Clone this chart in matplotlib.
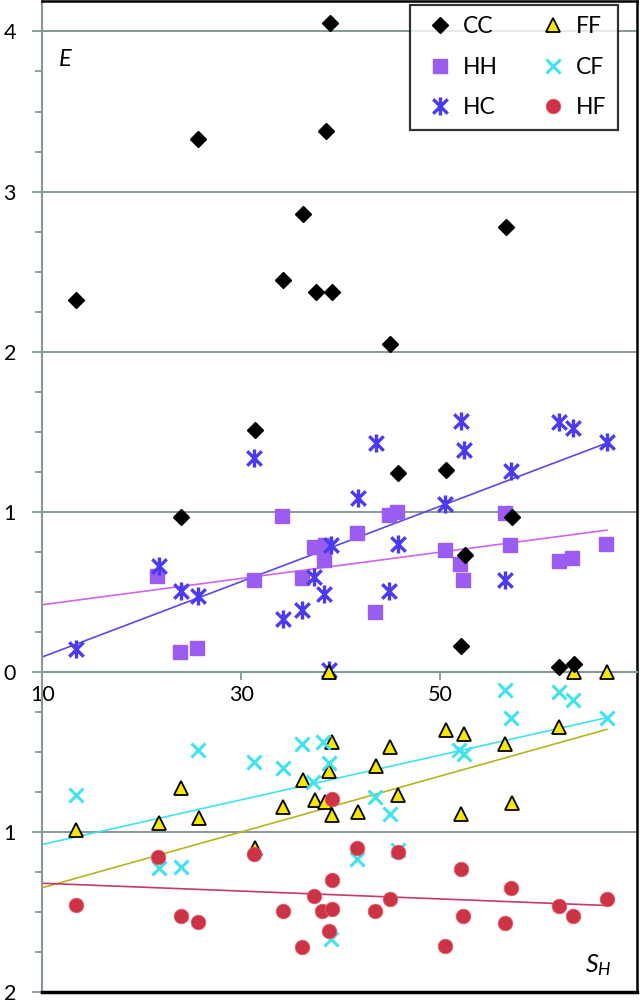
import matplotlib
matplotlib.use("Agg")
import matplotlib.pyplot as plt
import numpy as np
from matplotlib.path import Path
from matplotlib.ticker import MultipleLocator, FuncFormatter

plt.rcParams["font.family"] = ["Lato", "DejaVu Sans"]
plt.rcParams["mathtext.fontset"] = "custom"
plt.rcParams["mathtext.it"] = "Lato:italic"
plt.rcParams["mathtext.rm"] = "Lato"

# --- data (upper panel: E, lower panel: E of F-groups, drawn downward) ---
cc_x = [13.4, 25.7, 38.9, 38.5, 36.2, 34.2, 37.5, 39.1, 45.0, 56.7, 31.4, 24.0, 45.8, 50.6, 57.3, 52.5, 52.1, 62.0, 63.5]
cc_y = [2.32, 3.33, 4.05, 3.38, 2.86, 2.45, 2.37, 2.37, 2.05, 2.78, 1.51, 0.97, 1.24, 1.26, 0.97, 0.73, 0.16, 0.03, 0.05]

hh_x = [21.5, 23.9, 25.6, 31.3, 34.1, 36.1, 37.3, 38.4, 38.3, 41.7, 43.5, 44.9, 45.7, 50.5, 52.0, 52.3, 56.5, 57.1, 62.0, 63.3, 66.7]
hh_y = [0.60, 0.125, 0.15, 0.573, 0.977, 0.59, 0.78, 0.79, 0.698, 0.865, 0.375, 0.979, 0.998, 0.761, 0.673, 0.577, 0.99, 0.79, 0.692, 0.711, 0.798]

hc_x = [13.4, 21.7, 24.0, 25.7, 31.3, 34.2, 36.1, 37.3, 38.3, 38.8, 39.0, 41.8, 43.6, 44.9, 45.8, 50.5, 52.1, 52.4, 56.6, 57.2, 62.0, 63.4, 66.8]
hc_y = [0.146, 0.663, 0.504, 0.475, 1.338, 0.329, 0.386, 0.594, 0.49, 0.01, 0.792, 1.088, 1.427, 0.506, 0.802, 1.052, 1.569, 1.386, 0.573, 1.254, 1.559, 1.521, 1.434]

ff_x = [13.4, 21.75, 24.0, 25.8, 31.4, 34.2, 36.2, 37.4, 38.4, 38.8, 38.8, 39.1, 39.1, 41.8, 43.6, 45.0, 45.8, 50.6, 52.1, 52.4, 56.6, 57.3, 62.0, 63.5, 66.8]
ff_e = [0.985, 0.94, 0.725, 0.91, 1.10, 0.844, 0.675, 0.80, 0.81, 0.62, 0.0, 0.44, 0.89, 0.875, 0.59, 0.469, 0.766, 0.365, 0.885, 0.385, 0.4475, 0.815, 0.344, 0.0, 0.0]

cf_x = [13.4, 21.75, 24.0, 25.7, 31.25, 34.2, 36.1, 37.2, 38.2, 38.8, 39.0, 41.7, 43.5, 44.95, 45.8, 51.9, 52.4, 56.6, 57.2, 62.0, 63.4, 66.8]
cf_e = [0.77, 1.222, 1.219, 0.485, 0.5625, 0.6, 0.4475, 0.6875, 0.4375, 0.57, 1.666, 1.17, 0.78, 0.885, 1.114, 0.49, 0.51, 0.11, 0.29, 0.125, 0.177, 0.285]

hf_x = [13.4, 21.6, 24.0, 25.7, 31.3, 34.2, 36.1, 37.3, 38.1, 38.8, 39.1, 39.1, 39.1, 41.7, 43.5, 44.95, 45.75, 50.55, 52.1, 52.3, 56.6, 57.2, 62.0, 63.4, 66.8]
hf_e = [1.454, 1.156, 1.521, 1.5625, 1.135, 1.494, 1.716, 1.396, 1.494, 1.615, 0.79, 1.298, 1.479, 1.10, 1.494, 1.42, 1.125, 1.7125, 1.233, 1.521, 1.569, 1.3475, 1.4625, 1.521, 1.416]

# trendline end values (at S_H = 10 and at the last point)
trend_x = [10, 66.8]
hh_trend = [0.42, 0.886]
hc_trend = [0.094, 1.43]
ff_trend = [1.347, 0.358]
cf_trend = [1.077, 0.285]
hf_trend = [1.319, 1.458]

# asterisk like Excel's star marker
star = Path([(0, -1), (0, 1), (-0.8, -0.8), (0.8, 0.8), (-0.8, 0.8), (0.8, -0.8)],
            [Path.MOVETO, Path.LINETO, Path.MOVETO, Path.LINETO, Path.MOVETO, Path.LINETO])

fig = plt.figure(figsize=(6.4, 10.01), dpi=100)
ax = fig.add_axes([42.3 / 640, 8.7 / 1001, 594.4 / 640, 991.3 / 1001])

neg = lambda v: -np.asarray(v)

# trend lines
ax.plot(trend_x, hh_trend, color="#cc66ee", lw=1.2, zorder=2)
ax.plot(trend_x, hc_trend, color="#5a48e6", lw=1.2, zorder=2)
ax.plot(trend_x, neg(cf_trend), color="#3fe3ec", lw=1.2, zorder=2)
ax.plot(trend_x, neg(ff_trend), color="#b5b51e", lw=1.2, zorder=2)
ax.plot(trend_x, neg(hf_trend), color="#c8386a", lw=1.2, zorder=2)

# points
h_cc, = ax.plot(cc_x, cc_y, ls="none", marker="D", ms=8.5, color="black", zorder=4, label="CC")
h_hh, = ax.plot(hh_x, hh_y, ls="none", marker="s", ms=9.5, color="#9b5cf2", zorder=3, label="HH")
h_hc, = ax.plot(hc_x, hc_y, ls="none", marker=star, ms=13, mfc="none", mec="#4b3af0", mew=2.4, zorder=3, label="HC")
h_ff, = ax.plot(ff_x, neg(ff_e), ls="none", marker="^", ms=10.5, mfc="#f7e600", mec="black", mew=1.3, zorder=3, label="FF")
h_cf, = ax.plot(cf_x, neg(cf_e), ls="none", marker="x", ms=10.5, mec="#3fe3ec", mew=2.2, zorder=3, label="CF")
h_hf, = ax.plot(hf_x, neg(hf_e), ls="none", marker="o", ms=10.5, mfc="#cc3344", mec="#e06070", mew=0.6, zorder=3, label="HF")

ax.set_xlim(10, 69.8)
ax.set_ylim(-2, 4.19)

# frame: grey value axis, black plot-area border
for s in ["top", "right"]:
    ax.spines[s].set_color("black")
    ax.spines[s].set_linewidth(1.8)
ax.spines["left"].set_color("#879797")
ax.spines["left"].set_linewidth(1.5)
ax.spines["bottom"].set_position(("data", 0))
ax.spines["bottom"].set_color("#879797")
ax.spines["bottom"].set_linewidth(1.5)
ax.axhline(-2, color="black", lw=2.5, clip_on=False, zorder=5)

ax.yaxis.set_major_locator(MultipleLocator(1))
ax.yaxis.set_minor_locator(MultipleLocator(0.25))
ax.yaxis.set_major_formatter(FuncFormatter(lambda v, p: f"{abs(v):g}"))
ax.tick_params(axis="y", which="major", length=7, width=1.3, color="#879797", pad=12, labelsize=15.5)
ax.tick_params(axis="y", which="minor", length=5, width=1.3, color="#879797")
ax.yaxis.grid(True, which="major", color="#879797", lw=1.4)
ax.set_axisbelow(True)

ax.set_xticks([10, 30, 50])
ax.tick_params(axis="x", which="major", length=6, width=1.3, color="#879797", pad=3, labelsize=15.5)

ax.text(0.038, 0.9405, "E", transform=ax.transAxes, fontsize=17, style="italic", ha="center", va="center")
ax.text(0.935, 0.0275, "$S_H$", transform=ax.transAxes, fontsize=18, ha="center", va="center")

leg = fig.legend(handles=[h_cc, h_hh, h_hc, h_ff, h_cf, h_hf], ncol=2, loc="upper left",
                 bbox_to_anchor=(410 / 640, 0.995), fontsize=16.5, frameon=True, fancybox=False,
                 handlelength=1.6, handletextpad=0.2, columnspacing=1.6, labelspacing=0.85,
                 borderpad=0.5, borderaxespad=0)
leg.get_frame().set_edgecolor("black")
leg.get_frame().set_linewidth(1.6)

fig.savefig("out.png", dpi=100)
